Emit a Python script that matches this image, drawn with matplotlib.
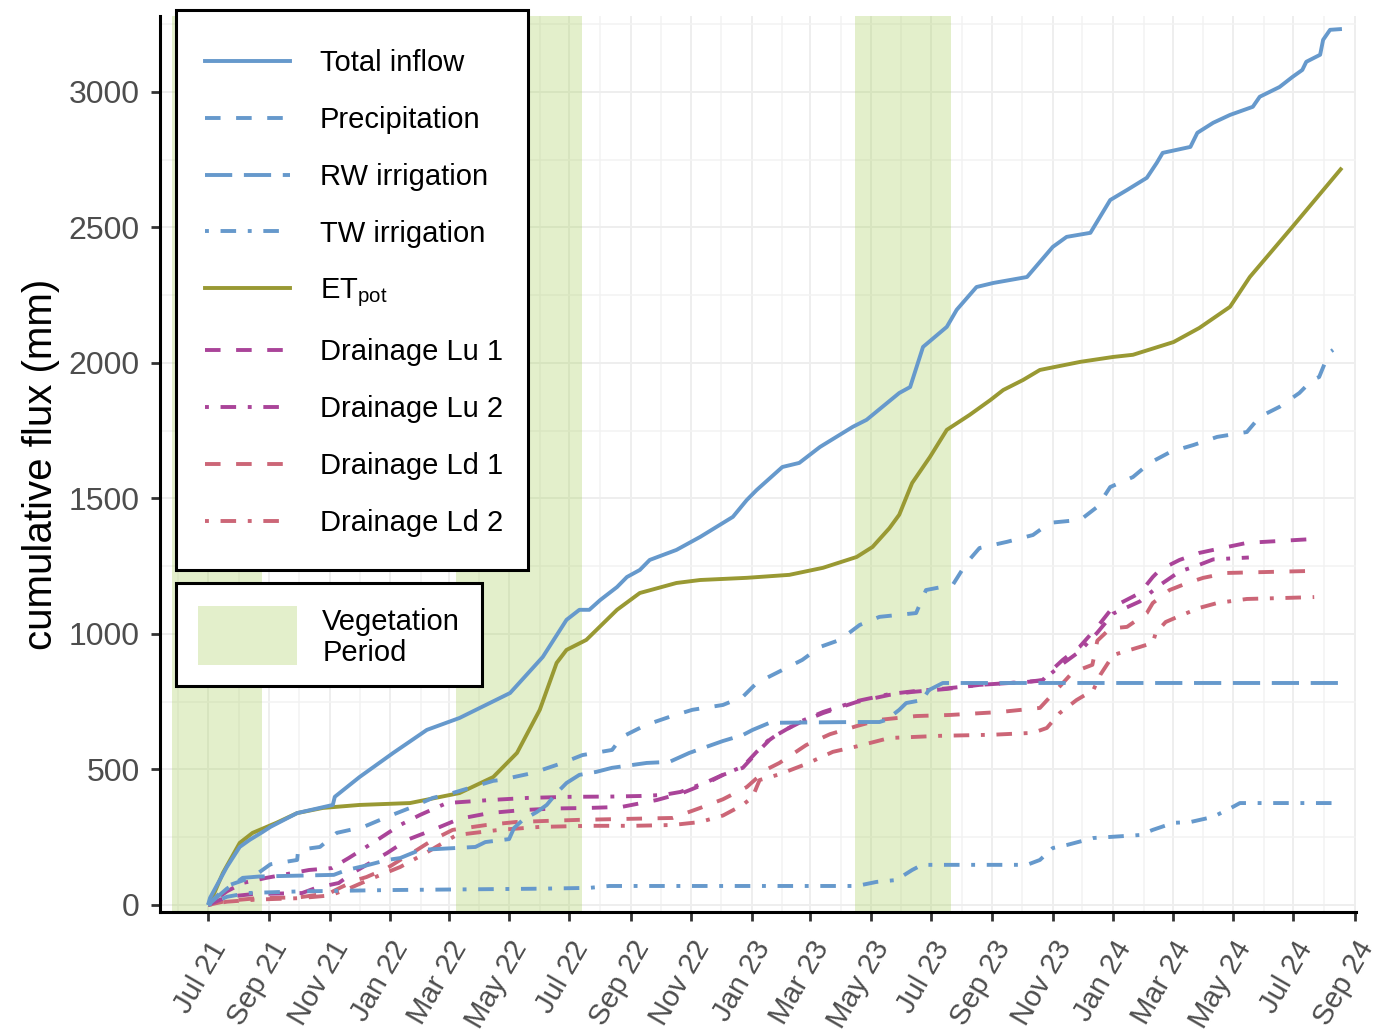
import matplotlib
matplotlib.use("Agg")
import matplotlib.pyplot as plt
import matplotlib.dates as mdates
from matplotlib.lines import Line2D
from matplotlib.patches import Patch, Rectangle
from matplotlib.legend_handler import HandlerPatch
import pandas as pd

plt.rcParams['font.family'] = ['Liberation Sans', 'DejaVu Sans']
plt.rcParams['mathtext.fontset'] = 'custom'
plt.rcParams['mathtext.rm'] = 'Liberation Sans'
plt.rcParams['mathtext.it'] = 'Liberation Sans:italic'

# ---------------- cumulative fluxes (mm) ----------------
inflow_dates = ["2021-07-01", "2021-07-03", "2021-07-20", "2021-08-02", "2021-08-12", "2021-08-25",
                "2021-09-02", "2021-09-29", "2021-11-04", "2021-11-06", "2021-12-01", "2022-01-04",
                "2022-02-07", "2022-03-12", "2022-05-02", "2022-06-04", "2022-06-28", "2022-07-11",
                "2022-07-21", "2022-08-01", "2022-08-18", "2022-08-28", "2022-09-10", "2022-09-20",
                "2022-10-17", "2022-11-10", "2022-12-13", "2022-12-27", "2023-01-06", "2023-02-01",
                "2023-02-18", "2023-03-11", "2023-04-13", "2023-04-27", "2023-05-30", "2023-06-10",
                "2023-06-23", "2023-07-17", "2023-07-27", "2023-08-16", "2023-09-02", "2023-10-06",
                "2023-11-01", "2023-11-15", "2023-12-09", "2023-12-29", "2024-01-15", "2024-02-04",
                "2024-02-14", "2024-02-20", "2024-03-19", "2024-03-26", "2024-04-11", "2024-04-28",
                "2024-05-21", "2024-05-28", "2024-06-17", "2024-06-30", "2024-07-10", "2024-07-14",
                "2024-07-28", "2024-07-31", "2024-08-07", "2024-08-19"]
inflow_mm = [0, 26, 140, 214, 240, 269, 288, 339, 369, 399, 472, 561, 646, 690, 782, 915, 1052, 1089,
             1089, 1125, 1173, 1210, 1236, 1273, 1310, 1358, 1432, 1494, 1531, 1616, 1631, 1690, 1764,
             1790, 1889, 1911, 2059, 2133, 2196, 2280, 2295, 2317, 2428, 2465, 2480, 2601, 2638, 2683,
             2738, 2775, 2797, 2849, 2886, 2915, 2945, 2982, 3018, 3055, 3081, 3111, 3137, 3192, 3229, 3232]

precip_dates = ["2021-07-01", "2021-07-20", "2021-08-15", "2021-09-02", "2021-09-29", "2021-09-30",
                "2021-10-22", "2021-11-08", "2021-12-05", "2021-12-29", "2022-01-21", "2022-02-13",
                "2022-03-05", "2022-04-15", "2022-04-22", "2022-05-25", "2022-06-24", "2022-07-14",
                "2022-08-13", "2022-08-23", "2022-09-16", "2022-10-10", "2022-11-02", "2022-12-03",
                "2022-12-23", "2023-01-06", "2023-02-01", "2023-02-21", "2023-03-11", "2023-03-31",
                "2023-04-20", "2023-05-10", "2023-06-16", "2023-06-26", "2023-07-23", "2023-08-06",
                "2023-08-19", "2023-09-16", "2023-10-12", "2023-10-29", "2023-11-29", "2023-12-16",
                "2023-12-29", "2024-01-21", "2024-02-07", "2024-02-28", "2024-03-22", "2024-04-15",
                "2024-05-15", "2024-05-28", "2024-06-17", "2024-07-07", "2024-07-20", "2024-07-27",
                "2024-08-06", "2024-08-10"]
precip_mm = [0, 70, 103, 150, 166, 203, 214, 266, 288, 325, 358, 395, 413, 458, 461, 487, 524, 553,
             572, 620, 664, 694, 720, 738, 768, 819, 867, 904, 952, 978, 1033, 1063, 1077, 1162, 1181,
             1262, 1317, 1340, 1365, 1410, 1421, 1469, 1542, 1579, 1631, 1672, 1697, 1727, 1745, 1801,
             1838, 1889, 1937, 1948, 2037, 2048]

rw_dates = ["2021-07-01", "2021-07-20", "2021-08-02", "2021-08-05", "2021-08-22", "2021-11-05",
            "2021-11-18", "2021-12-06", "2021-12-29", "2022-01-11", "2022-01-31", "2022-03-28",
            "2022-04-07", "2022-05-01", "2022-05-06", "2022-05-15", "2022-05-29", "2022-06-08",
            "2022-06-18", "2022-06-28", "2022-07-11", "2022-07-28", "2022-08-13", "2022-09-17",
            "2022-10-10", "2022-10-30", "2022-11-16", "2022-12-03", "2022-12-23", "2023-01-02",
            "2023-01-19", "2023-04-17", "2023-05-10", "2023-05-17", "2023-05-30", "2023-06-06",
            "2023-06-22", "2023-06-29", "2023-07-13", "2024-08-20"]
rw_mm = [0, 60, 92, 100, 105, 111, 129, 144, 166, 173, 203, 214, 232, 243, 284, 314, 343, 369, 413,
         450, 480, 491, 506, 524, 528, 561, 583, 605, 627, 646, 672, 675, 675, 683, 720, 745, 756, 793,
         819, 819]

tw_dates = ["2021-07-01", "2021-07-20", "2021-08-10", "2021-10-01", "2022-01-01", "2022-06-01",
            "2022-07-21", "2022-08-10", "2023-04-17", "2023-05-07", "2023-05-27", "2023-06-12",
            "2023-06-22", "2023-10-06", "2023-10-19", "2023-11-01", "2023-11-15", "2023-12-12",
            "2024-01-28", "2024-02-10", "2024-03-02", "2024-03-19", "2024-04-11", "2024-05-01",
            "2024-05-08", "2024-08-09"]
tw_mm = [0, 30, 44, 50, 55, 60, 63, 70, 70, 85, 92, 129, 148, 148, 166, 210, 221, 247, 258, 277, 303,
         306, 325, 362, 376, 376]

et_dates = ["2021-07-01", "2021-07-03", "2021-07-16", "2021-08-02", "2021-08-15", "2021-09-08",
            "2021-09-29", "2021-10-25", "2021-12-01", "2022-01-21", "2022-03-12", "2022-04-15",
            "2022-05-09", "2022-06-01", "2022-06-18", "2022-06-28", "2022-07-18", "2022-08-18",
            "2022-09-10", "2022-10-17", "2022-11-10", "2022-12-27", "2023-02-08", "2023-03-14",
            "2023-04-17", "2023-05-03", "2023-05-20", "2023-05-30", "2023-06-12", "2023-06-30",
            "2023-07-17", "2023-08-09", "2023-08-30", "2023-09-12", "2023-10-02", "2023-10-19",
            "2023-11-29", "2024-01-01", "2024-01-21", "2024-03-02", "2024-03-28", "2024-04-28",
            "2024-05-18", "2024-06-30", "2024-08-19"]
et_mm = [0, 7, 118, 229, 266, 303, 339, 358, 369, 376, 413, 472, 561, 720, 893, 941, 978, 1089, 1151,
         1188, 1199, 1207, 1218, 1244, 1284, 1321, 1390, 1440, 1557, 1653, 1753, 1808, 1863, 1900,
         1937, 1974, 2004, 2022, 2030, 2077, 2129, 2207, 2317, 2502, 2720]

lu1_dates = ["2021-07-01", "2021-07-20", "2021-08-15", "2021-10-04", "2021-10-18", "2021-11-10",
             "2021-11-24", "2021-12-29", "2022-01-18", "2022-02-13", "2022-03-12", "2022-04-11",
             "2022-05-14", "2022-06-17", "2022-07-21", "2022-08-23", "2022-09-27", "2022-10-23",
             "2022-11-17", "2022-12-03", "2022-12-23", "2023-01-06", "2023-01-19", "2023-01-29",
             "2023-02-18", "2023-03-14", "2023-04-17", "2023-05-20", "2023-06-12", "2023-07-17",
             "2023-08-19", "2023-10-06", "2023-10-22", "2023-10-29", "2023-11-11", "2023-11-28",
             "2023-12-16", "2024-01-01", "2024-01-28", "2024-02-10", "2024-02-17", "2024-03-08",
             "2024-03-28", "2024-04-11", "2024-05-15", "2024-07-20"]
lu1_mm = [0, 30, 40, 44, 63, 81, 118, 192, 240, 277, 318, 339, 350, 356, 358, 362, 387, 413, 450, 480,
          506, 561, 609, 635, 672, 708, 749, 775, 786, 797, 812, 823, 830, 860, 904, 952, 1026, 1100,
          1151, 1210, 1236, 1273, 1299, 1310, 1336, 1350]

lu2_dates = ["2021-07-01", "2021-07-20", "2021-08-05", "2021-08-29", "2021-10-11", "2021-11-03",
             "2021-11-20", "2021-12-19", "2022-01-11", "2022-01-31", "2022-02-27", "2022-04-11",
             "2022-05-20", "2022-07-01", "2022-08-13", "2022-09-10", "2022-10-04", "2022-10-21",
             "2022-11-17", "2022-12-07", "2022-12-23", "2023-01-06", "2023-01-19", "2023-02-18",
             "2023-03-14", "2023-04-17", "2023-05-20", "2023-06-12", "2023-07-17", "2023-08-19",
             "2023-10-06", "2023-10-22", "2023-10-29", "2023-11-11", "2023-11-28", "2023-12-16",
             "2024-01-01", "2024-01-28", "2024-02-17", "2024-03-08", "2024-03-28", "2024-04-11",
             "2024-05-17"]
lu2_mm = [0, 50, 81, 100, 129, 136, 173, 240, 295, 332, 376, 387, 395, 399, 400, 402, 406, 417, 454,
          487, 510, 565, 612, 675, 712, 752, 778, 788, 799, 812, 823, 828, 850, 890, 935, 1005, 1075,
          1120, 1180, 1230, 1255, 1275, 1282]

ld1_dates = ["2021-07-01", "2021-07-20", "2021-08-20", "2021-10-01", "2021-11-01", "2021-11-11",
             "2021-11-28", "2021-12-08", "2021-12-29", "2022-01-11", "2022-01-28", "2022-02-13",
             "2022-03-05", "2022-04-08", "2022-05-08", "2022-06-07", "2022-07-11", "2022-10-13",
             "2022-11-10", "2022-12-03", "2022-12-27", "2023-01-16", "2023-01-29", "2023-02-25",
             "2023-03-21", "2023-04-17", "2023-05-10", "2023-06-16", "2023-07-20", "2023-09-09",
             "2023-10-19", "2023-11-04", "2023-11-21", "2023-12-11", "2023-12-16", "2023-12-29",
             "2024-01-15", "2024-02-04", "2024-02-10", "2024-02-27", "2024-03-16", "2024-04-01",
             "2024-04-25", "2024-07-14"]
ld1_mm = [0, 15, 25, 28, 44, 63, 92, 103, 136, 166, 203, 240, 277, 295, 306, 310, 314, 321, 358, 390,
          435, 500, 524, 590, 630, 660, 683, 697, 701, 712, 727, 790, 858, 886, 975, 1020, 1026, 1077,
          1114, 1162, 1188, 1207, 1225, 1232]

ld2_dates = ["2021-07-01", "2021-07-20", "2021-08-20", "2021-10-01", "2021-11-01", "2021-11-20",
             "2021-12-15", "2022-01-11", "2022-02-05", "2022-03-09", "2022-04-21", "2022-06-01",
             "2022-07-21", "2022-09-03", "2022-10-13", "2022-11-10", "2022-12-03", "2022-12-23",
             "2023-01-02", "2023-01-06", "2023-01-09", "2023-01-29", "2023-02-25", "2023-03-24",
             "2023-04-17", "2023-05-20", "2023-07-10", "2023-09-01", "2023-10-12", "2023-10-26",
             "2023-11-08", "2023-11-25", "2023-12-12", "2023-12-19", "2024-01-01", "2024-01-08",
             "2024-01-28", "2024-02-10", "2024-02-13", "2024-02-23", "2024-03-06", "2024-03-28",
             "2024-04-15", "2024-05-15", "2024-06-25", "2024-07-22"]
ld2_mm = [0, 12, 20, 25, 35, 60, 100, 140, 190, 258, 277, 288, 292, 292, 295, 306, 330, 369, 399, 435,
          461, 482, 520, 565, 585, 616, 624, 628, 635, 653, 708, 756, 793, 849, 922, 930, 952, 967,
          1004, 1044, 1063, 1096, 1114, 1129, 1133, 1136]

# vegetation periods
veg_start = ["2021-05-26", "2022-03-08", "2023-04-15"]
veg_end = ["2021-08-25", "2022-07-14", "2023-07-21"]

# ---------------- styles ----------------
BLUE, OLIVE, PURPLE, ROSE = "#6699CC", "#999933", "#AA4499", "#CC6677"
DASHED = (0, (4, 4))
LONGDASH = (0, (7, 3))
DOTDASH = (0, (1, 3, 4, 3))

series = [
    ("Total inflow", inflow_dates, inflow_mm, BLUE, "-"),
    ("Precipitation", precip_dates, precip_mm, BLUE, DASHED),
    ("RW irrigation", rw_dates, rw_mm, BLUE, LONGDASH),
    ("TW irrigation", tw_dates, tw_mm, BLUE, DOTDASH),
    (r"ET$_{\mathrm{pot}}$", et_dates, et_mm, OLIVE, "-"),
    ("Drainage Lu 1", lu1_dates, lu1_mm, PURPLE, DASHED),
    ("Drainage Lu 2", lu2_dates, lu2_mm, PURPLE, DOTDASH),
    ("Drainage Ld 1", ld1_dates, ld1_mm, ROSE, DASHED),
    ("Drainage Ld 2", ld2_dates, ld2_mm, ROSE, DOTDASH),
]
LW = 2.8
VEG_COLOR, VEG_ALPHA = "#A5CD55", 0.3
LEG_FS = 21

W, H = 1388, 1035
fig = plt.figure(figsize=(W / 100, H / 100), dpi=100)
ax = fig.add_axes([160 / W, 123 / H, (1356 - 160) / W, (912 - 16) / H])

for s, e in zip(veg_start, veg_end):
    ax.axvspan(pd.Timestamp(s), pd.Timestamp(e), color=VEG_COLOR, alpha=VEG_ALPHA, lw=0, zorder=1)

for label, d, v, col, ls in reversed(series):
    ax.plot(pd.to_datetime(d), v, color=col, ls=ls, lw=LW, zorder=2, solid_capstyle="butt",
            dash_capstyle="butt")
handles = [Line2D([], [], color=col, ls=ls, lw=LW, dash_capstyle="butt")
           for label, d, v, col, ls in series]

# axes scales
ax.set_xlim(pd.Timestamp("2021-05-13 12:00"), pd.Timestamp("2024-09-02 05:00"))
ax.set_ylim(-26, 3280)
ax.xaxis.set_major_locator(mdates.MonthLocator(bymonth=[1, 3, 5, 7, 9, 11]))
ax.xaxis.set_minor_locator(mdates.MonthLocator())
ax.xaxis.set_major_formatter(mdates.DateFormatter("%b %y"))
ax.set_yticks(range(0, 3001, 500))
ax.set_yticks(range(250, 3300, 500), minor=True)

ax.set_axisbelow(True)
ax.grid(which="major", color="#EEEEEE", lw=1.4, zorder=0)
ax.grid(which="minor", color="#F2F2F2", lw=1.1, zorder=0)

for side in ("top", "right"):
    ax.spines[side].set_visible(False)
for side in ("left", "bottom"):
    ax.spines[side].set_linewidth(2.2)
    ax.spines[side].set_color("black")

ax.tick_params(axis="both", which="major", length=6.5, width=2, color="#333333",
               labelcolor="#4D4D4D")
ax.tick_params(axis="y", labelsize=23, pad=8)
ax.tick_params(axis="x", labelsize=21, pad=11)
ax.tick_params(which="minor", length=0)
for lbl in ax.get_xticklabels():
    lbl.set_rotation(60)
    lbl.set_ha("right")
    lbl.set_va("top")
    lbl.set_rotation_mode("anchor")

ax.set_ylabel("cumulative flux (mm)", fontsize=29, labelpad=6, color="black")

# series legend with a fixed box behind it
ax.add_patch(Rectangle((175.5 / W, 1 - 569.5 / H), 352 / W, 560 / H, transform=fig.transFigure,
                       facecolor="white", edgecolor="black", lw=2.2, zorder=4.5, clip_on=False))
leg1 = ax.legend(handles=handles, labels=[s[0] for s in series], loc="upper left",
                 bbox_to_anchor=(205 / W, 1 - 49 / H), bbox_transform=fig.transFigure,
                 fontsize=LEG_FS, frameon=False, handlelength=2.9, handletextpad=1.04,
                 labelspacing=0.99, borderpad=0, borderaxespad=0)
ax.add_artist(leg1)


def veg_key(legend, orig_handle, xdescent, ydescent, width, height, fontsize):
    key_h = 42.5
    yc = -ydescent + height / 2 + 2.5
    return Rectangle((-xdescent, yc - key_h / 2), width, key_h)


# vegetation legend with its own box
ax.add_patch(Rectangle((175.5 / W, 1 - 685.5 / H), 306 / W, 103 / H, transform=fig.transFigure,
                       facecolor="white", edgecolor="black", lw=2.2, zorder=4.5, clip_on=False))
leg2 = ax.legend(handles=[Patch(facecolor=VEG_COLOR, alpha=VEG_ALPHA, lw=0)],
                 labels=["Vegetation\nPeriod"], loc="upper left",
                 bbox_to_anchor=(198 / W, 1 - 608 / H), bbox_transform=fig.transFigure,
                 fontsize=LEG_FS, frameon=False, handlelength=3.4, handleheight=2.0,
                 handletextpad=0.86, borderpad=0, borderaxespad=0,
                 handler_map={Patch: HandlerPatch(patch_func=veg_key)})
for t in leg2.get_texts():
    t.set_linespacing(1.13)

fig.savefig("out.png", dpi=100)
